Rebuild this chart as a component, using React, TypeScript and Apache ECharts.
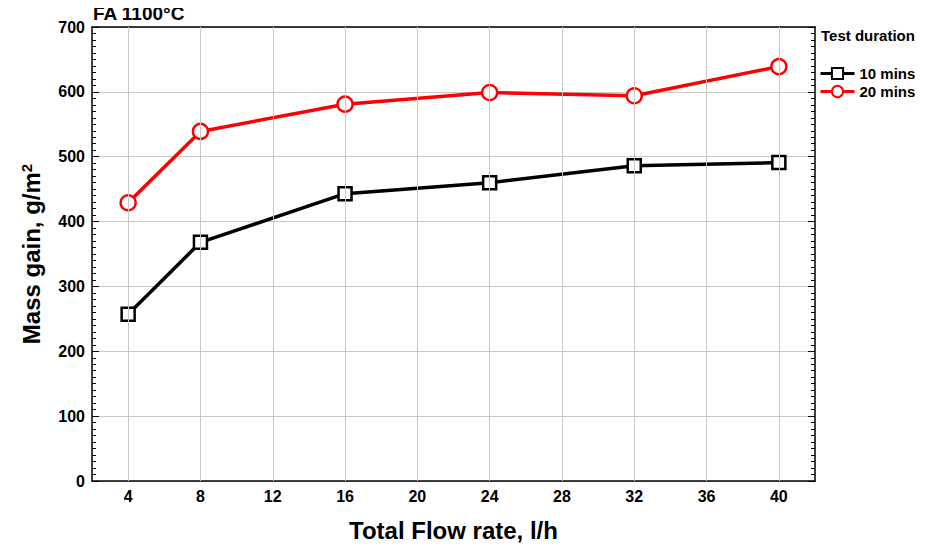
import React, { useEffect, useRef } from "react";
import * as echarts from "echarts";

const flowRates = [4, 8, 16, 24, 32, 40];
const mins10 = [257, 368, 443, 460, 486, 491];
const mins20 = [429, 539, 581, 599, 594, 639];
const xTicks = [4, 8, 12, 16, 20, 24, 28, 32, 36, 40];

const FONT = "'Liberation Sans', Arial, sans-serif";

export default function App() {
  const ref = useRef<HTMLDivElement>(null);
  useEffect(() => {
    const chart = echarts.init(ref.current!, null, { renderer: "svg" });
    const pair = (ys: number[]) => flowRates.map((x, i) => [x, ys[i]]);
    const gridLineData = xTicks.map((v) => ({ xAxis: v }));
    chart.setOption({
      animation: false,
      textStyle: { fontFamily: FONT },
      grid: { left: 92, right: 120, top: 27, bottom: 64 },
      graphic: [
        {
          type: "text",
          left: 93,
          top: 4,
          style: { text: "FA 1100°C", font: `bold 19px ${FONT}`, fill: "#000" },
        },
        {
          type: "text",
          left: 821,
          top: 28,
          style: { text: "Test duration", font: `bold 15px ${FONT}`, fill: "#000" },
        },
      ],
      legend: {
        left: 814,
        top: 61,
        orient: "vertical",
        itemWidth: 34,
        itemHeight: 14,
        itemGap: 3,
        lineStyle: { width: 3 },
        textStyle: { fontFamily: FONT, fontWeight: "bold", fontSize: 15, color: "#000" },
        data: ["10 mins", "20 mins"],
      },
      xAxis: [
        {
          type: "value",
          min: 2,
          max: 42,
          name: "Total Flow rate, l/h",
          nameLocation: "middle",
          nameGap: 37,
          nameTextStyle: { fontFamily: FONT, fontWeight: "bold", fontSize: 24, color: "#000" },
          axisLine: { show: true, onZero: false, lineStyle: { color: "#000", width: 1.5 } },
          axisTick: { show: true, inside: true, length: 5, customValues: xTicks, lineStyle: { color: "#000" } },
          axisLabel: {
            customValues: xTicks,
            margin: 7,
            fontFamily: FONT,
            fontWeight: "bold",
            fontSize: 16,
            color: "#000",
          },
          splitLine: { show: false },
        },
        {
          type: "value",
          position: "top",
          min: 2,
          max: 42,
          axisLine: { show: true, onZero: false, lineStyle: { color: "#000", width: 1.5 } },
          axisTick: { show: true, inside: true, length: 5, customValues: xTicks, lineStyle: { color: "#000" } },
          axisLabel: { show: false, customValues: xTicks },
          splitLine: { show: false },
        },
      ],
      yAxis: [
        {
          type: "value",
          min: 0,
          max: 700,
          interval: 100,
          name: "Mass gain, g/m{sup|2}",
          nameLocation: "middle",
          nameGap: 48,
          nameTextStyle: {
            fontFamily: FONT,
            fontWeight: "bold",
            fontSize: 24,
            color: "#000",
            rich: {
              sup: { fontFamily: FONT, fontWeight: "bold", fontSize: 15, color: "#000", verticalAlign: "top", padding: [0, 0, 10, 0] },
            },
          },
          axisLine: { show: true, onZero: false, lineStyle: { color: "#000", width: 1.5 } },
          axisTick: { show: true, inside: true, length: 7, lineStyle: { color: "#000" } },
          minorTick: { show: true, splitNumber: 10, length: 4, lineStyle: { color: "#000" } },
          axisLabel: { margin: 7, fontFamily: FONT, fontWeight: "bold", fontSize: 16, color: "#000" },
          splitLine: { show: true, lineStyle: { color: "#c8c8c8", width: 1 } },
        },
        {
          type: "value",
          position: "right",
          min: 0,
          max: 700,
          interval: 100,
          axisLine: { show: true, onZero: false, lineStyle: { color: "#000", width: 1.5 } },
          axisTick: { show: true, inside: true, length: 7, lineStyle: { color: "#000" } },
          minorTick: { show: true, splitNumber: 10, length: 4, lineStyle: { color: "#000" } },
          axisLabel: { show: false },
          splitLine: { show: false },
        },
      ],
      series: [
        {
          name: "gridlines",
          type: "line",
          data: [],
          silent: true,
          markLine: {
            silent: true,
            symbol: "none",
            label: { show: false },
            lineStyle: { color: "#c8c8c8", width: 1, type: "solid" },
            data: gridLineData,
          },
          z: 1,
        },
        {
          name: "10 mins",
          type: "line",
          data: pair(mins10),
          symbol: "rect",
          symbolSize: 13,
          lineStyle: { color: "#000", width: 3.5 },
          itemStyle: { color: "#fff", borderColor: "#000", borderWidth: 2.5 },
          z: 3,
        },
        {
          name: "20 mins",
          type: "line",
          data: pair(mins20),
          symbol: "circle",
          symbolSize: 15,
          lineStyle: { color: "#ff0000", width: 3.5 },
          itemStyle: { color: "#fff", borderColor: "#ff0000", borderWidth: 2.5 },
          z: 3,
        },
      ],
    });
    return () => chart.dispose();
  }, []);
  return <div ref={ref} style={{ width: 935, height: 547, marginLeft: -8, marginTop: -8 }} />;
}
